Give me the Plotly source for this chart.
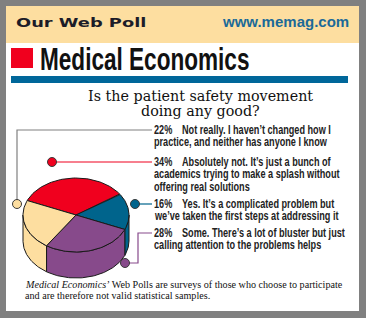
import json
import numpy as np
import plotly.graph_objects as go

# ---------------- data ----------------
pcts = [22, 34, 16, 28]
pct_labels = ["22%", "34%", "16%", "28%"]
answer_first = [
    "Not really. I haven’t changed how I",
    "Absolutely not. It’s just a bunch of",
    "Yes. It’s a complicated problem but",
    "Some. There’s a lot of bluster but just",
]
answer_rest = [
    ["practice, and neither has anyone I know"],
    ["academics trying to make a splash without", "offering real solutions"],
    ["we’ve taken the first steps at addressing it"],
    ["calling attention to the problems helps"],
]
slice_colors = ["#fddea0", "#f0001e", "#00648c", "#874a8b"]
leader_colors = ["#808080", "#f0001e", "#00648c", "#874a8b"]
pie_order = [1, 2, 3, 0]  # clockwise from start angle

header_left = "Our Web Poll"
header_right = "www.memag.com"
brand = "Medical Economics"
question = ["Is the patient safety movement", "doing any good?"]
footnote = ["<i>Medical Economics’</i> Web Polls are surveys of those who choose to participate",
            "and are therefore not valid statistical samples."]

# ---------------- layout constants ----------------
W, H_PX = 366, 318
CX, CY, RX, RY, DEPTH = 76, 215, 53, 37, 26
START = 157.0
OUTLINE = "#1a1a1a"

text_y = [130, 162, 204, 233]
LINE_GAP = 12.4
leader_paths = [
    [(17, 204), (17, 130), (152, 130)],
    [(52, 162), (152, 162)],
    [(135, 204), (152, 204)],
    [(125, 263), (138, 263), (138, 233), (152, 233)],
]

fig = go.Figure()

# ---------------- pie geometry ----------------
total = float(sum(pcts))
spans = []
ang = START
for i in pie_order:
    sweep = pcts[i] / total * 360.0
    spans.append((i, ang - sweep, ang))
    ang -= sweep


def arc(t_from, t_to, n=60, dy=0.0):
    t = np.radians(np.linspace(t_from, t_to, n))
    return CX + RX * np.cos(t), CY - RY * np.sin(t) + dy


# side walls (front half only)
for i, a, b in spans:
    for k in range(-2, 2):
        lo = max(a, 180 + 360 * k)
        hi = min(b, 360 + 360 * k)
        if hi > lo:
            xt, yt = arc(lo, hi)
            xb, yb = arc(hi, lo, dy=DEPTH)
            xs = np.concatenate([xt, xb, xt[:1]])
            ys = np.concatenate([yt, yb, yt[:1]])
            fig.add_trace(go.Scatter(x=xs, y=ys, mode="lines", fill="toself",
                                     fillcolor=slice_colors[i],
                                     line=dict(color=OUTLINE, width=1),
                                     hoverinfo="skip", showlegend=False))

# top faces
for i, a, b in spans:
    xa, ya = arc(b, a)
    xs = np.concatenate([[CX], xa, [CX]])
    ys = np.concatenate([[CY], ya, [CY]])
    fig.add_trace(go.Scatter(x=xs, y=ys, mode="lines", fill="toself",
                             fillcolor=slice_colors[i],
                             line=dict(color=OUTLINE, width=1),
                             hoverinfo="skip", showlegend=False))

# leader lines and dots
for i, path in enumerate(leader_paths):
    px = [p[0] for p in path]
    py = [p[1] for p in path]
    fig.add_trace(go.Scatter(x=px, y=py, mode="lines",
                             line=dict(color=leader_colors[i], width=1.2),
                             hoverinfo="skip", showlegend=False))
    fig.add_trace(go.Scatter(x=[px[0]], y=[py[0]], mode="markers",
                             marker=dict(size=9, color=slice_colors[i],
                                         line=dict(color="#3a3a3a", width=1)),
                             hoverinfo="skip", showlegend=False))

# ---------------- annotations ----------------
ann = []
squeeze = []  # horizontal scale per annotation (applied after render)
SANS = "Liberation Sans, Arial, sans-serif"
SERIF = "Liberation Serif, Times New Roman, serif"
BODY_FONT = dict(family=SANS, size=12, color="#222222", weight="bold")
BODY_SQ = 0.76


def add(text, x, y, font, xanchor="left", sq=1.0):
    ann.append(dict(x=x, y=y, text=text, xanchor=xanchor, yanchor="middle",
                    align="left" if xanchor == "left" else xanchor, font=font,
                    borderpad=0, borderwidth=0,
                    xref="x", yref="y", showarrow=False))
    squeeze.append(sq)


for i in range(len(pcts)):
    add(pct_labels[i], 154, text_y[i], BODY_FONT, sq=BODY_SQ)
    add(answer_first[i], 182, text_y[i], BODY_FONT, sq=BODY_SQ)
    for j, line in enumerate(answer_rest[i]):
        add(line, 154, text_y[i] + LINE_GAP * (j + 1), BODY_FONT, sq=BODY_SQ)

add(header_left, 16, 22.5, dict(family="DejaVu Sans", size=13, color="#1c1c28", weight="bold"), sq=1.37)
add(header_right, 222, 21.5, dict(family=SANS, size=15, color="#1b6a98", weight="bold"), sq=1.0)
add(brand, 40, 59, dict(family=SANS, size=30.5, color="#111111", weight="bold"), sq=0.74)
for j, q in enumerate(question):
    add(q, 200, 96 + 15 * j, dict(family="DejaVu Serif", size=14.3, color="#111111"), xanchor="center")
for j, f in enumerate(footnote):
    add(f, 25, 284 + 11 * j, dict(family=SERIF, size=11, color="#111111"), sq=0.92)

shapes = [
    dict(type="rect", x0=6, y0=6, x1=359, y1=311, fillcolor="#ffffff", line=dict(width=0), layer="below"),
    dict(type="rect", x0=6, y0=6, x1=359, y1=43, fillcolor="#fddea0", line=dict(width=0), layer="below"),
    dict(type="rect", x0=11, y0=48, x1=33, y1=68, fillcolor="#f0001e", line=dict(width=0), layer="below"),
    dict(type="rect", x0=11, y0=76, x1=348, y1=83, fillcolor="#00679a", line=dict(width=0), layer="below"),
]

fig.update_layout(
    width=W, height=H_PX, margin=dict(l=0, r=0, t=0, b=0),
    paper_bgcolor="#808080", plot_bgcolor="#808080",
    xaxis=dict(range=[0, W], visible=False, fixedrange=True),
    yaxis=dict(range=[H_PX, 0], visible=False, fixedrange=True),
    annotations=ann, shapes=shapes, showlegend=False,
)

post_js = """
var gd = document.getElementById('{plot_id}');
var sq = %s;
gd.querySelectorAll('g.annotation').forEach(function(g) {
  var i = +g.getAttribute('data-index');
  var s = sq[i];
  if (s && s !== 1) {
    var t = g.querySelector('text.annotation-text');
    if (t) {
      var L = t.getComputedTextLength();
      t.setAttribute('textLength', (L * s).toFixed(2));
      t.setAttribute('lengthAdjust', 'spacingAndGlyphs');
      var r = g.querySelector('rect.bg');
      if (r) {
        var w = parseFloat(r.getAttribute('width')) || 0;
        r.setAttribute('width', Math.max(0, w - L * (1 - s)).toFixed(2));
      }
    }
  }
});
""" % json.dumps(squeeze)

fig.write_html("out.html", post_script=post_js)
